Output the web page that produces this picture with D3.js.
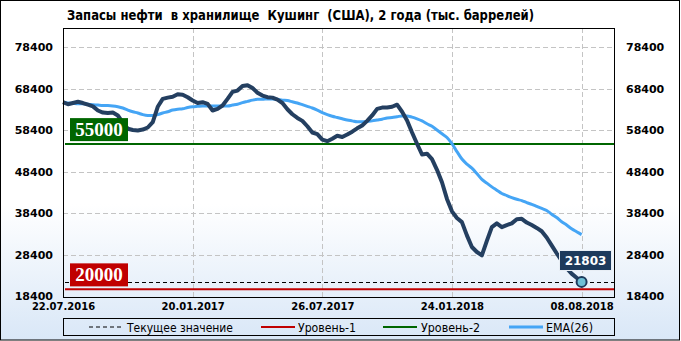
<!DOCTYPE html>
<html>
<head>
<meta charset="utf-8">
<script src="https://cdn.jsdelivr.net/npm/d3@7"></script>
<style>
  body { margin: 0; background: #fff; }
  svg { display: block; }
</style>
</head>
<body>
<div id="chart"></div>
<script>
// Запасы нефти, Кушинг — недельные значения (тыс. баррелей)
const stocks = [
  65100, 64600, 64900, 65200, 64900, 64500, 64100, 63100, 62600, 62500,
  62600, 61900, 60200, 58700, 58400, 58300, 58500, 59000, 60300, 64000,
  65900, 66200, 66400, 67000, 66900, 66300, 65500, 64900, 65100, 64700,
  63100, 63500, 64300, 65900, 67600, 67900, 69000, 69200, 68500, 67400,
  66700, 66300, 66200, 65700, 64900, 63400, 62200, 61300, 60600, 59300,
  57800, 57400, 56100, 55700, 56300, 57000, 56700, 57300, 58000, 58800,
  59500, 60600, 61900, 63500, 63800, 63800, 64000, 64500, 62800, 60700,
  57800, 55100, 52500, 52700, 51400, 48800, 45800, 41800, 38800, 37200,
  36200, 33000, 30200, 29000, 28200, 31700, 35000, 35900, 35000, 35500,
  35900, 36900, 37000, 36100, 35500, 34800, 34000, 32500, 30600, 28700,
  26900, 25100, 23800, 22800, 21803
];

// EMA(26)
const ema = [
  65000, 64900, 64800, 64700, 64700, 64600, 64500, 64400, 64300, 64300,
  64200, 64000, 63700, 63200, 62800, 62500, 62100, 61900, 61900, 62100,
  62500, 62800, 63200, 63400, 63500, 63800, 64000, 64100, 64200, 64200,
  64200, 64200, 64200, 64200, 64400, 64600, 65000, 65300, 65600, 65800,
  65800, 65900, 65900, 65800, 65600, 65500, 65200, 64900, 64500, 64100,
  63700, 63200, 62600, 62100, 61700, 61400, 61100, 60800, 60600, 60400,
  60400, 60500, 60600, 60800, 61000, 61300, 61400, 61600, 61800, 61800,
  61500, 61100, 60600, 59900, 59300, 58400, 57500, 56600, 55100, 53200,
  51400, 50200, 49200, 47900, 46500, 45600, 44700, 43900, 43100, 42600,
  42100, 41700, 41400, 40900, 40500, 40000, 39500, 39000, 38100, 37300,
  36300, 35500, 34600, 33900, 33200
];

const yTicks = [18400, 28400, 38400, 48400, 58400, 68400, 78400];
const xTickIdx = [0, 26, 52, 78, 104];
const xTickLabels = ["22.07.2016", "20.01.2017", "26.07.2017", "24.01.2018", "08.08.2018"];
const level1 = 20000;
const level2 = 55000;
const legendItems = ["Текущее значение", "Уровень-1", "Уровень-2", "EMA(26)"];

const W = 681, H = 341;
const plot = {left: 63, right: 614, top: 28, bottom: 297};

const svg = d3.select("#chart").append("svg")
  .attr("width", W)
  .attr("height", H);

// фон с градиентом
const defs = svg.append("defs");
const grad = defs.append("linearGradient")
  .attr("id", "bg")
  .attr("x1", 0).attr("y1", 0).attr("x2", 0).attr("y2", 1);
grad.append("stop").attr("offset", "0").attr("stop-color", "#ffffff");
grad.append("stop").attr("offset", "0.6").attr("stop-color", "#ffffff");
grad.append("stop").attr("offset", "1").attr("stop-color", "#d9e7f7");

svg.append("rect")
  .attr("x", 0.5).attr("y", 0.5)
  .attr("width", W - 2).attr("height", H - 1.5)
  .attr("fill", "url(#bg)")
  .attr("stroke", "#000");

// Заголовок (двойные пробелы как в оригинале)
svg.append("text")
  .attr("x", 67)
  .attr("y", 20)
  .style("white-space", "pre")
  .attr("font-family", "'Liberation Sans Narrow', 'DejaVu Sans Condensed', sans-serif")
  .attr("font-weight", "bold")
  .attr("font-size", 14)
  .attr("textLength", 467)
  .attr("lengthAdjust", "spacingAndGlyphs")
  .attr("fill", "#000")
  .text("Запасы нефти  в хранилище  Кушинг  (США), 2 года (тыс. баррелей)");

// Шкалы
const x = d3.scaleLinear()
  .domain([0, 110.5])
  .range([plot.left, plot.right]);

const y = d3.scaleLinear()
  .domain([18400, 78400])
  .range([296, 47]);

// Сетка
const grid = svg.append("g")
  .attr("stroke", "#c4c4c4")
  .attr("stroke-dasharray", "5,3")
  .attr("stroke-width", 1);

grid.selectAll("line.h")
  .data(yTicks.slice(1))
  .join("line")
  .attr("x1", plot.left).attr("x2", plot.right)
  .attr("y1", d => Math.round(y(d)) + 0.5)
  .attr("y2", d => Math.round(y(d)) + 0.5);

grid.selectAll("line.v")
  .data(xTickIdx.slice(1))
  .join("line")
  .attr("x1", d => Math.round(x(d)) + 0.5)
  .attr("x2", d => Math.round(x(d)) + 0.5)
  .attr("y1", plot.top).attr("y2", plot.bottom);

// Оси
const axisFont = "'DejaVu Sans', Verdana, sans-serif";

function styleAxis(g) {
  g.select(".domain").remove();
  g.selectAll(".tick line").remove();
  g.selectAll("text")
    .attr("font-family", axisFont)
    .attr("font-weight", "bold")
    .attr("font-size", 11)
    .attr("fill", "#000");
}

svg.append("g")
  .attr("transform", `translate(${plot.left},0)`)
  .call(d3.axisLeft(y).tickValues(yTicks).tickFormat(d3.format("d")).tickSize(0).tickPadding(10))
  .call(styleAxis);

svg.append("g")
  .attr("transform", `translate(${plot.right},0)`)
  .call(d3.axisRight(y).tickValues(yTicks).tickFormat(d3.format("d")).tickSize(0).tickPadding(12))
  .call(styleAxis);

svg.append("g")
  .attr("transform", `translate(0,${plot.bottom})`)
  .call(d3.axisBottom(x).tickValues(xTickIdx).tickFormat((d, i) => xTickLabels[i]).tickSize(0).tickPadding(6))
  .call(styleAxis)
  .call(g => g.selectAll("text").attr("font-size", 10));

// Уровни
svg.append("line")
  .attr("x1", 65).attr("x2", plot.right)
  .attr("y1", y(level2)).attr("y2", y(level2))
  .attr("stroke", "#006600").attr("stroke-width", 2);

svg.append("line")
  .attr("x1", 65).attr("x2", plot.right)
  .attr("y1", y(level1)).attr("y2", y(level1))
  .attr("stroke", "#c00000").attr("stroke-width", 2);

const last = stocks[stocks.length - 1];
const lastI = stocks.length - 1;

svg.append("line")
  .attr("x1", 65).attr("x2", plot.right)
  .attr("y1", Math.round(y(last)) + 0.5).attr("y2", Math.round(y(last)) + 0.5)
  .attr("stroke", "#000").attr("stroke-dasharray", "4,3");

// Линии
const line = d3.line()
  .x((d, i) => x(i))
  .y(d => y(d));

svg.append("path")
  .datum(ema)
  .attr("fill", "none")
  .attr("stroke", "#45a5f5")
  .attr("stroke-width", 3)
  .attr("stroke-linejoin", "round")
  .attr("d", line.curve(d3.curveMonotoneX));

svg.append("path")
  .datum(stocks)
  .attr("fill", "none")
  .attr("stroke", "#243f60")
  .attr("stroke-width", 4)
  .attr("stroke-linejoin", "round")
  .attr("d", line.curve(d3.curveLinear));

// Рамка области построения
svg.append("rect")
  .attr("x", plot.left + 0.5).attr("y", plot.top + 0.5)
  .attr("width", plot.right - plot.left).attr("height", plot.bottom - plot.top)
  .attr("fill", "none")
  .attr("stroke", "#000");

// Метки уровней
function levelLabel(val, color) {
  const by = y(val) - 26;
  svg.append("rect")
    .attr("x", 70).attr("y", by)
    .attr("width", 58).attr("height", 23)
    .attr("fill", color);
  svg.append("text")
    .attr("x", 99).attr("y", by + 18)
    .attr("text-anchor", "middle")
    .attr("font-family", "'Liberation Serif', 'DejaVu Serif', serif")
    .attr("font-weight", "bold")
    .attr("font-size", 19)
    .attr("fill", "#fff")
    .text(val);
}
levelLabel(level2, "#006600");
levelLabel(level1, "#c00000");

// Последнее значение
svg.append("rect")
  .attr("x", 559.5).attr("y", 250.5)
  .attr("width", 52).attr("height", 20)
  .attr("fill", "#1d3a5c")
  .attr("stroke", "#e8eef5");
svg.append("text")
  .attr("x", 585.5).attr("y", 265)
  .attr("text-anchor", "middle")
  .attr("font-family", axisFont)
  .attr("font-weight", "bold")
  .attr("font-size", 12)
  .attr("fill", "#fff")
  .text(last);

svg.append("circle")
  .attr("cx", x(lastI)).attr("cy", y(last))
  .attr("r", 5)
  .attr("fill", "#6fc0d6")
  .attr("stroke", "#1d3a5c")
  .attr("stroke-width", 2);

// Легенда
const legend = svg.append("g");
legend.append("rect")
  .attr("x", plot.left + 0.5).attr("y", 318.5)
  .attr("width", plot.right - plot.left).attr("height", 17)
  .attr("fill", "none")
  .attr("stroke", "#000");

const legFont = "'Liberation Sans Narrow', 'DejaVu Sans Condensed', sans-serif";
const legDefs = [
  {x1: 89, x2: 122, tx: 127, color: "#000", w: 1, dash: "4,3", tw: 106},
  {x1: 261, x2: 295, tx: 298, color: "#c00000", w: 2, dash: null, tw: 58},
  {x1: 383, x2: 417, tx: 421, color: "#006600", w: 2, dash: null, tw: 59},
  {x1: 509, x2: 543, tx: 546, color: "#45a5f5", w: 3, dash: null, tw: 47}
];
legDefs.forEach((d, i) => {
  legend.append("line")
    .attr("x1", d.x1).attr("x2", d.x2)
    .attr("y1", 327).attr("y2", 327)
    .attr("stroke", d.color)
    .attr("stroke-width", d.w)
    .attr("stroke-dasharray", d.dash);
  legend.append("text")
    .attr("x", d.tx).attr("y", 331.5)
    .attr("font-family", legFont)
    .attr("font-size", 13)
    .attr("textLength", d.tw)
    .attr("lengthAdjust", "spacingAndGlyphs")
    .attr("fill", "#000")
    .text(legendItems[i]);
});
</script>
</body>
</html>
